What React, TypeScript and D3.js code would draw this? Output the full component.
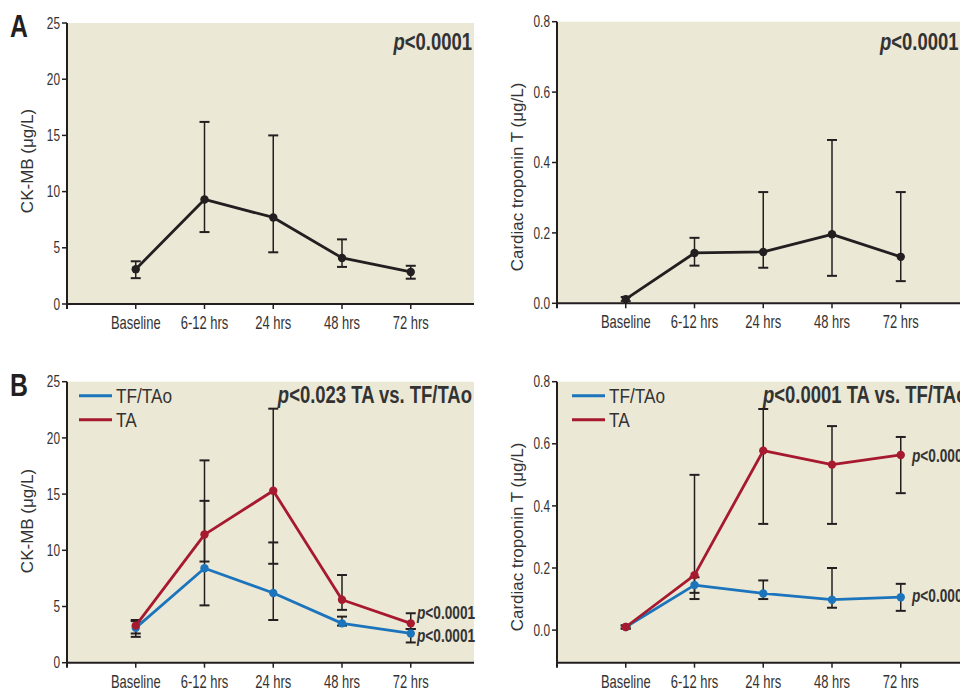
import React from 'react'
import * as d3 from 'd3'

// time points
const categories = ['Baseline', '6-12 hrs', '24 hrs', '48 hrs', '72 hrs']

// panel A: all patients
const ckmbAll = [3.1, 9.3, 7.7, 4.1, 2.85]
const ckmbAllLo = [2.3, 6.4, 4.6, 3.3, 2.25]
const ckmbAllHi = [3.8, 16.2, 15.0, 5.75, 3.4]

const tntAll = [0.012, 0.143, 0.146, 0.196, 0.132]
const tntAllLo = [0.006, 0.107, 0.101, 0.078, 0.063]
const tntAllHi = [0.018, 0.186, 0.316, 0.464, 0.316]

// panel B: by access route
const ckmbTF = [3.1, 8.4, 6.2, 3.5, 2.6]
const ckmbTFLo = [2.6, 5.1, 3.8, 3.3, 1.8]
const ckmbTFHi = [3.7, 14.4, 10.7, 4.1, 3.0]
const ckmbTA = [3.3, 11.4, 15.3, 5.6, 3.5]
const ckmbTALo = [2.3, 9.0, 8.8, 4.7, 3.0]
const ckmbTAHi = [3.8, 18.0, 22.6, 7.8, 4.4]

const tntTF = [0.01, 0.145, 0.118, 0.098, 0.106]
const tntTFLo = [0.005, 0.1, 0.1, 0.072, 0.062]
const tntTFHi = [0.015, 0.17, 0.16, 0.2, 0.149]
const tntTA = [0.01, 0.177, 0.578, 0.533, 0.564]
const tntTALo = [0.005, 0.12, 0.342, 0.342, 0.441]
const tntTAHi = [0.015, 0.5, 0.712, 0.657, 0.622]

const ckmbTicks = [0, 5, 10, 15, 20, 25]
const tntTicks = [0, 0.2, 0.4, 0.6, 0.8]

const BG = '#ECE8D6'
const INK = '#231F20'
const TXT = '#333'
const BLUE = '#1C75BC'
const RED = '#A6192E'
const SANS = "'Liberation Sans', Arial, sans-serif"

// no condensed font installed, so squeeze Liberation Sans horizontally
function NText(props: {
  x: number
  y: number
  size: number
  anchor?: 'start' | 'middle' | 'end'
  bold?: boolean
  dy?: string
  fill?: string
  sx?: number
  children: React.ReactNode
}) {
  return (
    <text
      transform={`translate(${props.x},${props.y}) scale(${props.sx ?? 0.74},1)`}
      dy={props.dy}
      textAnchor={props.anchor || 'start'}
      fontFamily={SANS}
      fontSize={props.size}
      fontWeight={props.bold ? 'bold' : 'normal'}
      fill={props.fill || TXT}
    >
      {props.children}
    </text>
  )
}

type Series = { mean: number[]; lo: number[]; hi: number[]; color: string; name?: string }

type PanelProps = {
  left: number
  right: number
  top: number
  bottom: number
  yDomain: [number, number]
  ticks: number[]
  fmt: (v: number) => string
  series: Series[]
  yLabel: string
  yLabelY: number
  title: string
  titleX: number
  titleAnchor: 'start' | 'end'
  titleY: number
  legendX?: number
  pLabels?: { y: number; x: number }[]
  letter?: string
}

function Panel(p: PanelProps) {
  const x = d3.scaleLinear().domain([-1, 4.92]).range([p.left, p.left + 407])
  const y = d3.scaleLinear().domain(p.yDomain).range([p.bottom, p.top])
  const line = d3.line<number>().x((_, i) => x(i)).y(d => y(d))
  return (
    <g>
      <rect x={p.left} y={p.top} width={p.right - p.left} height={p.bottom - p.top} fill={BG} />
      <line x1={p.left} x2={p.left} y1={p.top} y2={p.bottom + 5} stroke={INK} strokeWidth={2} />
      <line x1={p.left} x2={p.right} y1={p.bottom} y2={p.bottom} stroke={INK} strokeWidth={2} />
      {p.ticks.map(t => (
        <g key={t}>
          <line x1={p.left - 5} x2={p.left} y1={y(t)} y2={y(t)} stroke={INK} strokeWidth={1.5} />
          <NText x={p.left - 7} y={y(t)} dy="0.35em" anchor="end" size={16}>
            {p.fmt(t)}
          </NText>
        </g>
      ))}
      {categories.map((c, i) => (
        <g key={c}>
          <line x1={x(i)} x2={x(i)} y1={p.bottom} y2={p.bottom + 5} stroke={INK} strokeWidth={1.5} />
          <NText x={x(i)} y={p.bottom + 25} anchor="middle" size={18} sx={0.72}>
            {c}
          </NText>
        </g>
      ))}
      <text
        transform={`translate(${p.left - 34},${p.yLabelY}) rotate(-90)`}
        textAnchor="middle"
        fontFamily={SANS}
        fontSize={17}
        fill={TXT}
      >
        {p.yLabel}
      </text>
      {/* error bars */}
      {p.series.map((s, si) =>
        s.mean.map((_, i) => (
          <g key={`e${si}-${i}`} stroke={INK} strokeWidth={1.5}>
            <line x1={x(i)} x2={x(i)} y1={y(s.lo[i])} y2={y(s.hi[i])} />
            <line x1={x(i) - 5} x2={x(i) + 5} y1={y(s.lo[i])} y2={y(s.lo[i])} strokeWidth={2} />
            <line x1={x(i) - 5} x2={x(i) + 5} y1={y(s.hi[i])} y2={y(s.hi[i])} strokeWidth={2} />
          </g>
        ))
      )}
      {p.series.map((s, si) => (
        <g key={`s${si}`}>
          <path d={line(s.mean) || ''} fill="none" stroke={s.color} strokeWidth={2.8} strokeLinejoin="round" />
          {s.mean.map((v, i) => (
            <circle key={i} cx={x(i)} cy={y(v)} r={4.2} fill={s.color} />
          ))}
        </g>
      ))}
      {p.legendX !== undefined &&
        p.series.map((s, si) => (
          <g key={`l${si}`}>
            <line
              x1={p.legendX}
              x2={(p.legendX as number) + 33}
              y1={p.top + 14 + si * 24}
              y2={p.top + 14 + si * 24}
              stroke={s.color}
              strokeWidth={3}
            />
            <NText x={(p.legendX as number) + 37} y={p.top + 14 + si * 24} dy="0.36em" size={20} sx={0.86}>
              {s.name}
            </NText>
          </g>
        ))}
      <NText x={p.titleX} y={p.titleY} anchor={p.titleAnchor} size={24} bold sx={0.77}>
        <tspan fontStyle="italic">p</tspan>
        {p.title}
      </NText>
      {p.pLabels &&
        p.pLabels.map((l, i) => (
          <NText key={i} x={l.x} y={l.y} size={18} bold sx={0.76}>
            <tspan fontStyle="italic">p</tspan>
            {'<0.0001'}
          </NText>
        ))}
      {p.letter && (
        <NText x={10} y={p.top + 14} size={31} bold fill={INK} sx={0.8}>
          {p.letter}
        </NText>
      )}
    </g>
  )
}

export default function App() {
  const f0 = d3.format('d')
  const f1 = d3.format('.1f')
  return (
    <svg width={960} height={692} style={{ position: 'absolute', left: 0, top: 0, background: '#fff' }}>
      <Panel
        left={67}
        right={474}
        top={23}
        bottom={304}
        yDomain={[0, 25]}
        ticks={ckmbTicks}
        fmt={f0}
        series={[{ mean: ckmbAll, lo: ckmbAllLo, hi: ckmbAllHi, color: INK }]}
        yLabel="CK-MB (μg/L)"
        yLabelY={161}
        title="<0.0001"
        titleX={472}
        titleAnchor="end"
        titleY={50}
        letter="A"
      />
      <Panel
        left={557}
        right={960}
        top={21.7}
        bottom={303.3}
        yDomain={[0, 0.8]}
        ticks={tntTicks}
        fmt={f1}
        series={[{ mean: tntAll, lo: tntAllLo, hi: tntAllHi, color: INK }]}
        yLabel="Cardiac troponin T (μg/L)"
        yLabelY={177}
        title="<0.0001"
        titleX={880}
        titleAnchor="start"
        titleY={50}
      />
      <Panel
        left={67}
        right={474}
        top={381.7}
        bottom={662.7}
        yDomain={[0, 25]}
        ticks={ckmbTicks}
        fmt={f0}
        series={[
          { mean: ckmbTF, lo: ckmbTFLo, hi: ckmbTFHi, color: BLUE, name: 'TF/TAo' },
          { mean: ckmbTA, lo: ckmbTALo, hi: ckmbTAHi, color: RED, name: 'TA' },
        ]}
        yLabel="CK-MB (μg/L)"
        yLabelY={521}
        title="<0.023 TA vs. TF/TAo"
        titleX={472}
        titleAnchor="end"
        titleY={403}
        legendX={79}
        pLabels={[
          { x: 417, y: 619 },
          { x: 417, y: 642 },
        ]}
        letter="B"
      />
      <Panel
        left={557}
        right={960}
        top={381.7}
        bottom={662.7}
        yDomain={[-0.105, 0.8]}
        ticks={tntTicks}
        fmt={f1}
        series={[
          { mean: tntTF, lo: tntTFLo, hi: tntTFHi, color: BLUE, name: 'TF/TAo' },
          { mean: tntTA, lo: tntTALo, hi: tntTAHi, color: RED, name: 'TA' },
        ]}
        yLabel="Cardiac troponin T (μg/L)"
        yLabelY={537}
        title="<0.0001 TA vs. TF/TAo"
        titleX={763}
        titleAnchor="start"
        titleY={403}
        legendX={572}
        pLabels={[
          { x: 912, y: 462 },
          { x: 912, y: 602 },
        ]}
      />
    </svg>
  )
}
